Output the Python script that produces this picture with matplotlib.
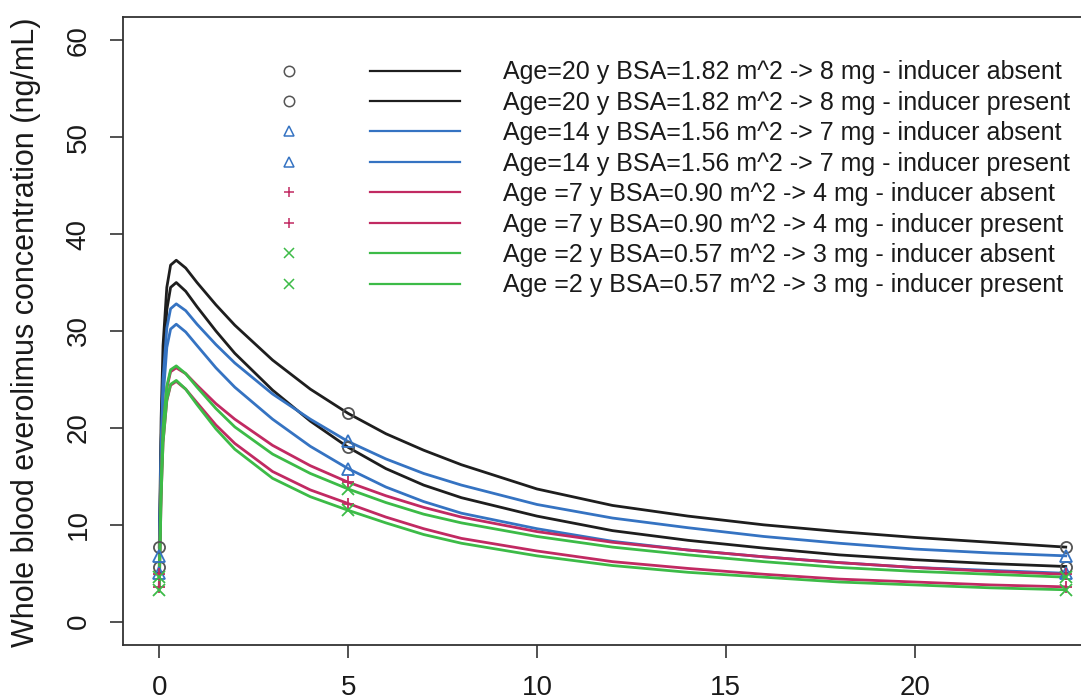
import matplotlib
matplotlib.use("Agg")
import matplotlib.pyplot as plt
from matplotlib.lines import Line2D
from matplotlib.legend_handler import HandlerTuple

plt.rcParams['font.family'] = ['Liberation Sans', 'DejaVu Sans']

# time after dose (h)
hours = [0, 0.05, 0.1, 0.2, 0.3, 0.45, 0.7, 1, 1.5, 2, 3, 4, 5, 6, 7, 8,
         10, 12, 14, 16, 18, 20, 22, 24]
sample_hours = [0, 5, 24]

# whole blood everolimus concentration (ng/mL), steady state
age20_absent = [7.7, 21.0, 28.5, 34.5, 36.8, 37.3, 36.5, 35.0, 32.7, 30.6, 27.0, 24.0,
                21.5, 19.4, 17.7, 16.2, 13.7, 12.0, 10.9, 10.0, 9.3, 8.7, 8.2, 7.7]
age20_present = [5.7, 18.5, 26.0, 32.2, 34.5, 35.0, 34.1, 32.5, 30.0, 27.7, 23.9, 20.7,
                 18.0, 15.8, 14.1, 12.8, 10.9, 9.4, 8.4, 7.6, 6.9, 6.4, 6.0, 5.7]
age14_absent = [6.8, 18.5, 25.0, 30.3, 32.3, 32.8, 32.1, 30.7, 28.6, 26.7, 23.5, 20.9,
                18.6, 16.8, 15.3, 14.1, 12.1, 10.7, 9.7, 8.8, 8.1, 7.5, 7.1, 6.8]
age14_present = [5.0, 16.5, 23.0, 28.3, 30.2, 30.7, 29.9, 28.5, 26.2, 24.2, 20.9, 18.1,
                 15.8, 13.9, 12.4, 11.2, 9.6, 8.3, 7.4, 6.7, 6.1, 5.6, 5.3, 5.0]
age7_absent = [4.9, 14.5, 19.8, 24.1, 25.8, 26.2, 25.6, 24.4, 22.5, 20.9, 18.2, 16.1,
               14.4, 13.0, 11.8, 10.8, 9.3, 8.2, 7.4, 6.7, 6.1, 5.6, 5.2, 4.9]
age7_present = [3.6, 13.0, 18.5, 22.8, 24.4, 24.8, 24.0, 22.6, 20.3, 18.4, 15.5, 13.6,
                12.2, 10.8, 9.6, 8.6, 7.3, 6.2, 5.5, 4.9, 4.4, 4.1, 3.8, 3.6]
age2_absent = [4.6, 14.5, 20.0, 24.3, 26.0, 26.4, 25.6, 24.2, 22.0, 20.1, 17.3, 15.3,
               13.7, 12.3, 11.1, 10.2, 8.8, 7.7, 6.9, 6.2, 5.6, 5.2, 4.9, 4.6]
age2_present = [3.3, 13.0, 18.5, 22.9, 24.5, 24.9, 24.0, 22.4, 19.9, 17.8, 14.8, 12.9,
                11.5, 10.2, 9.0, 8.1, 6.8, 5.8, 5.1, 4.6, 4.1, 3.8, 3.5, 3.3]

labels = [
    "Age=20 y BSA=1.82 m^2 -> 8 mg - inducer absent",
    "Age=20 y BSA=1.82 m^2 -> 8 mg - inducer present",
    "Age=14 y BSA=1.56 m^2 -> 7 mg - inducer absent",
    "Age=14 y BSA=1.56 m^2 -> 7 mg - inducer present",
    "Age =7 y BSA=0.90 m^2 -> 4 mg - inducer absent",
    "Age =7 y BSA=0.90 m^2 -> 4 mg - inducer present",
    "Age =2 y BSA=0.57 m^2 -> 3 mg - inducer absent",
    "Age =2 y BSA=0.57 m^2 -> 3 mg - inducer present",
]
series = [age20_absent, age20_present, age14_absent, age14_present,
          age7_absent, age7_present, age2_absent, age2_present]

black, blue, red, green = "#1e1e1e", "#3573c2", "#c12a62", "#3cbb47"
line_colors = [black, black, blue, blue, red, red, green, green]
mark_colors = ["#555555", "#555555", blue, blue, red, red, green, green]
markers = ["o", "o", "^", "^", "+", "+", "x", "x"]

fig = plt.figure(figsize=(10.81, 6.99), dpi=100)
ax = fig.add_axes([123 / 1081, 54 / 699, 979 / 1081, 628 / 699])

for conc, lc, mc, mk in zip(series, line_colors, mark_colors, markers):
    ax.plot(hours, conc, color=lc, lw=2.0, zorder=2)
    pts = [conc[hours.index(h)] for h in sample_hours]
    ax.plot(sample_hours, pts, ls="none", marker=mk, ms=8, mfc="none",
            mec=mc, mew=1.3, zorder=3)

ax.set_xlim(-0.96, 24.96)
ax.set_ylim(-2.4, 62.4)
ax.set_xticks([0, 5, 10, 15, 20])
ax.set_yticks([0, 10, 20, 30, 40, 50, 60])
for sp in ax.spines.values():
    sp.set_color("#333333")
    sp.set_linewidth(1.3)
ax.tick_params(axis="both", length=9.5, width=1.2, color="#333333",
               labelsize=20, labelcolor="#1a1a1a")
ax.tick_params(axis="x", pad=12)
ax.tick_params(axis="y", pad=13)
for lab in ax.get_yticklabels():
    lab.set_rotation(90)
    lab.set_va("center")

fig.text(26 / 1081, 1 - 332 / 699, "Whole blood everolimus concentration (ng/mL)",
         rotation=90, ha="center", va="center", fontsize=22, color="#1a1a1a")

handles = []
for lc, mc, mk in zip(line_colors, mark_colors, markers):
    handles.append((Line2D([], [], ls="none", marker=mk, ms=7.5, mfc="none",
                           mec=mc, mew=1.1),
                    Line2D([], [], color=lc, lw=1.6)))
ax.legend(handles, labels, handler_map={tuple: HandlerTuple(ndivide=None, pad=1.44)},
          loc="upper left", bbox_to_anchor=(0.1236, 0.931), frameon=False,
          fontsize=18, numpoints=1, handlelength=8.64, handletextpad=1.72,
          labelspacing=0.258, borderpad=0, borderaxespad=0, labelcolor="#1a1a1a")

fig.savefig("out.png", dpi=100)
